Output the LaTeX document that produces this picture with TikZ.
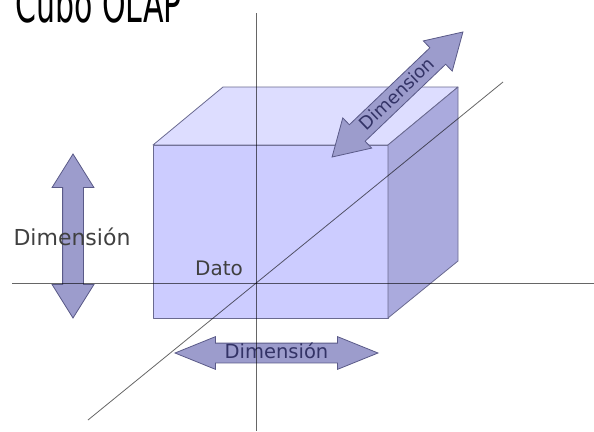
\documentclass[tikz,border=0pt]{standalone}
\usepackage{fontspec}
\setmainfont{DejaVu Sans}
\usetikzlibrary{shapes.arrows}
\definecolor{frontblue}{HTML}{CCCCFF}
\definecolor{topblue}{HTML}{DDDDFF}
\definecolor{sideblue}{HTML}{AAAADD}
\definecolor{edgeblue}{HTML}{6A6A90}
\definecolor{arrowfill}{HTML}{9C9CCC}
\definecolor{arrowedge}{HTML}{5A5A88}
\definecolor{labelgray}{HTML}{404040}
\definecolor{navytext}{HTML}{333366}
\begin{document}
\begin{tikzpicture}[x=1pt,y=-1pt,
    cubeedge/.style={draw=edgeblue, line width=0.8pt, line join=round},
    fatarrow/.style={double arrow, draw=arrowedge, fill=arrowfill, line width=0.8pt,
        inner xsep=0pt, minimum width=0pt, text=navytext},
    axisline/.style={draw=black, draw opacity=0.6, line width=0.8pt}]
    \useasboundingbox (0,0) rectangle (594,431);

    % Titel (oben abgeschnitten)
    \node[anchor=base west, inner sep=0pt, font=\fontsize{30}{30}\selectfont] (title) at (15,22) {\scalebox{1}[1.7]{Cubo OLAP}};

    % Wuerfel
    \fill[frontblue, cubeedge] (153,145) rectangle (388,318);
    \fill[topblue, cubeedge] (153,145) -- (223,87) -- (458,87) -- (388,145) -- cycle;
    \fill[sideblue, cubeedge] (388,145) -- (458,87) -- (458,261) -- (388,318) -- cycle;

    % Dimensions-Pfeile
    \node[fatarrow, rotate=90, minimum height=164pt, text height=0pt, text depth=0pt,
        inner ysep=10pt, double arrow head extend=10.5pt, double arrow tip angle=64] (dimv) at (73,236) {};
    \node[fatarrow, minimum height=203pt, text height=13pt, text depth=2pt, inner ysep=2pt,
        double arrow head extend=6.5pt, double arrow tip angle=44,
        font=\fontsize{19.5}{22}\selectfont] (dimh) at (276.5,353) {Dimensión};
    \node[fatarrow, rotate=43.7, minimum height=181pt, text height=13pt, text depth=2pt, inner ysep=3.5pt,
        double arrow head extend=9.5pt, double arrow tip angle=62,
        font=\fontsize{18}{21}\selectfont] (dimd) at (397.5,94.5) {Dimension};

    % Achsen
    \coordinate (vtop) at (256,13);
    \coordinate (vbot) at (256,431);
    \coordinate (hleft) at (12,283);
    \coordinate (hright) at (594,283);
    \coordinate (dlow) at (88,420);
    \coordinate (dhigh) at (503,82);
    \draw[axisline] (vtop) -- (vbot);
    \draw[axisline] (hleft) -- (hright);
    \draw[axisline] (dlow) -- (dhigh);

    % Beschriftungen
    \node[text=labelgray, font=\fontsize{22}{26}\selectfont] (dimlabel) at (72,237) {Dimensión};
    \node[text=labelgray, font=\fontsize{20}{24}\selectfont] (dato) at (219,268) {Dato};
\end{tikzpicture}
\end{document}
